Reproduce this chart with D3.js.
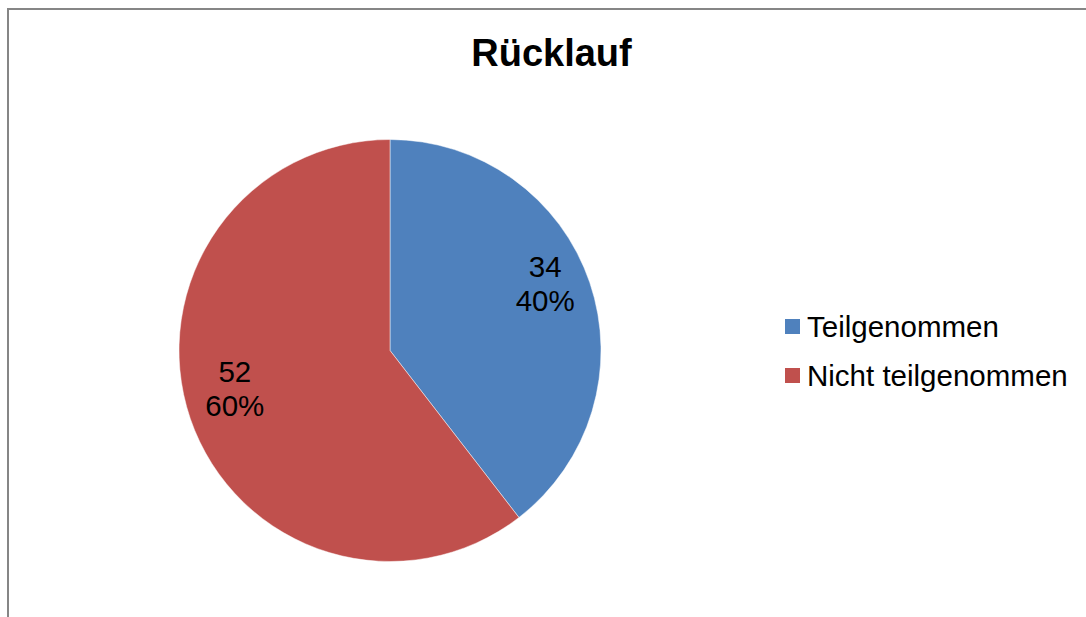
<!DOCTYPE html>
<html>
<head>
<meta charset="utf-8">
<script src="https://cdn.jsdelivr.net/npm/d3@7"></script>
<style>
  html, body { margin: 0; padding: 0; background: #fff; }
  svg { display: block; font-family: "Liberation Sans", Arial, sans-serif; }
</style>
</head>
<body>
<svg id="chart" width="1086" height="617"></svg>
<script>
// Rücklauf — pie chart, count + percent labels

const categories = ["Teilgenommen", "Nicht teilgenommen"];
const values = [34, 52];
const colors = ["#4F81BD", "#C0504D"];

const svg = d3.select("#chart");

// chart frame (only top and left edges visible)
svg.append("rect")
  .attr("x", 8).attr("y", 9)
  .attr("width", 1200).attr("height", 800)
  .attr("fill", "#fff")
  .attr("stroke", "#868686")
  .attr("stroke-width", 2);

svg.append("text")
  .attr("x", 551.5).attr("y", 66)
  .attr("text-anchor", "middle")
  .attr("font-size", 38)
  .attr("font-weight", "bold")
  .text("Rücklauf");

const cx = 390, cy = 350.5, r = 211;
const total = d3.sum(values);

const pie = d3.pie().sort(null).value(d => d.value);
const arcs = pie(categories.map((c, i) => ({ name: c, value: values[i], color: colors[i] })));
const arc = d3.arc().innerRadius(0).outerRadius(r);

const g = svg.append("g").attr("transform", `translate(${cx},${cy})`);

g.selectAll("path")
  .data(arcs)
  .enter().append("path")
  .attr("d", arc)
  .attr("fill", d => d.data.color)
  .attr("stroke", "#fff")
  .attr("stroke-width", 0.8)
  .attr("stroke-opacity", 0.6);

// data labels placed part way along each slice's mid-angle
const labelArc = d3.arc().innerRadius(164).outerRadius(164);
const lab = g.selectAll("g.lab")
  .data(arcs)
  .enter().append("g")
  .attr("class", "lab")
  .attr("transform", d => {
    const c = labelArc.centroid(d);
    return `translate(${c[0]},${c[1] - 7})`;
  });

lab.append("text")
  .attr("text-anchor", "middle")
  .attr("font-size", 29.5)
  .attr("y", -14)
  .text(d => d.data.value);

lab.append("text")
  .attr("text-anchor", "middle")
  .attr("font-size", 29.5)
  .attr("y", 20)
  .text(d => Math.round(d.data.value / total * 100) + "%");

// legend
const legend = svg.append("g").attr("transform", "translate(785,319)");
const item = legend.selectAll("g")
  .data(categories)
  .enter().append("g")
  .attr("transform", (d, i) => `translate(0,${i * 49})`);

item.append("rect")
  .attr("width", 15).attr("height", 15)
  .attr("fill", (d, i) => colors[i]);

item.append("text")
  .attr("x", 22).attr("y", 18)
  .attr("font-size", 29.5)
  .text(d => d);
</script>
</body>
</html>
